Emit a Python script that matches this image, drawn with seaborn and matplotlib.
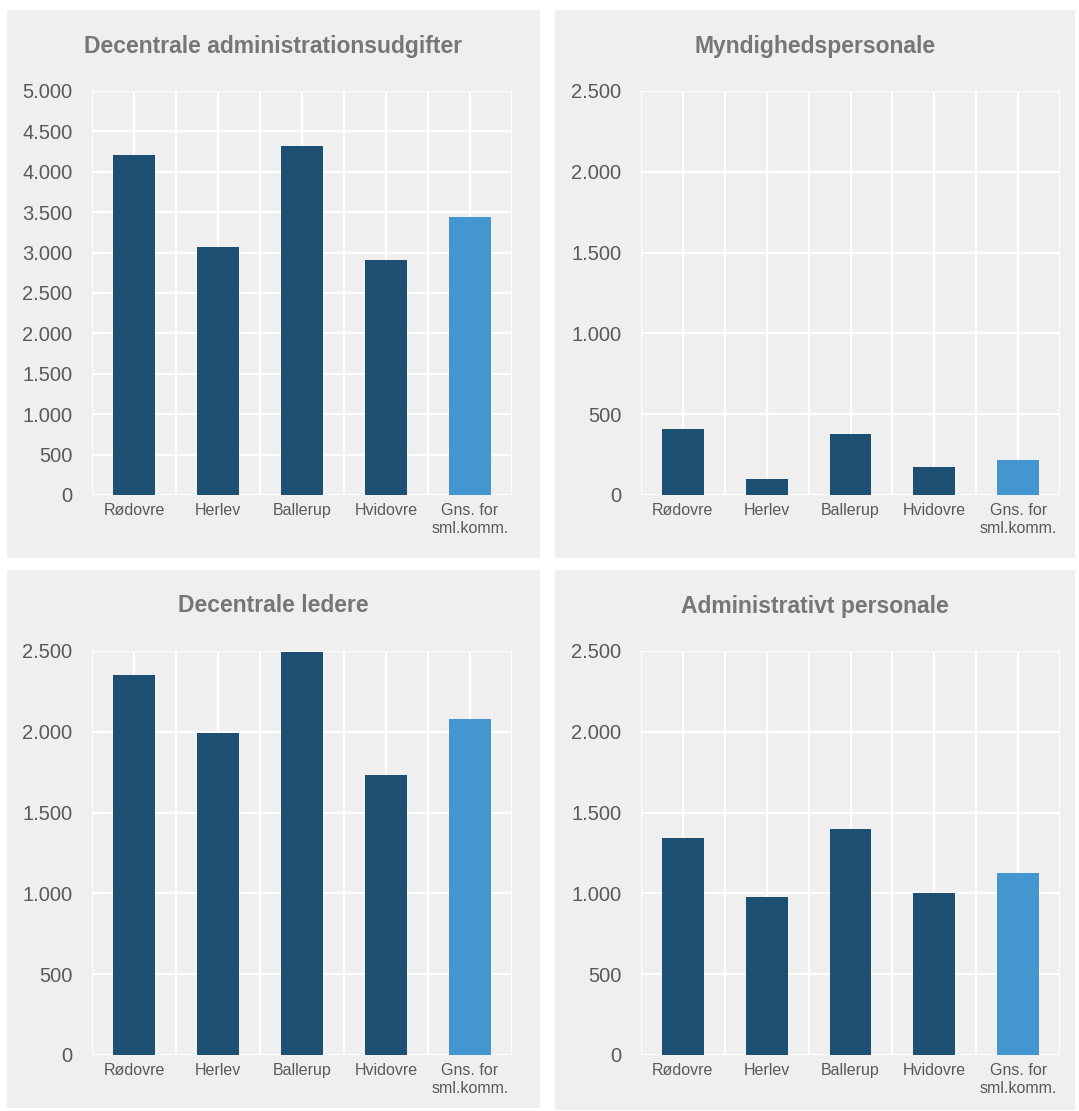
import numpy as np
import pandas as pd
import seaborn as sns
import matplotlib.pyplot as plt
from matplotlib.patches import Rectangle
from matplotlib.ticker import FuncFormatter, MultipleLocator

# Data
kommuner = ['Rødovre', 'Herlev', 'Ballerup', 'Hvidovre', 'Gns. for\nsml.komm.']
titler = ['Decentrale administrationsudgifter', 'Myndighedspersonale',
          'Decentrale ledere', 'Administrativt personale']
udgifter = [4210, 3070, 4320, 2910, 3440]
myndighed = [408, 99, 377, 173, 217]
ledere = [2350, 1993, 2494, 1733, 2079]
administrativt = [1343, 978, 1398, 1002, 1126]
y_max = [5000, 2500, 2500, 2500]

farver = ['#1D4F73', '#1D4F73', '#1D4F73', '#1D4F73', '#4396CE']
baggrund = '#EFEFEF'
tekst = '#595959'

sns.set_theme(style='white')
plt.rcParams['font.family'] = ['Liberation Sans', 'DejaVu Sans']

W, H = 1079, 1111
fig = plt.figure(figsize=(W / 100, H / 100), dpi=100, facecolor='white')

# panel-baggrunde (pixels: x0, y0, x1, y1)
paneler = [(7, 10, 540, 558), (555, 10, 1075, 558),
           (7, 570, 540, 1108), (555, 570, 1075, 1110)]
# plotområder
omraader = [(92, 91, 512, 495), (641, 91, 1060, 495),
            (92, 651, 512, 1055), (641, 651, 1060, 1055)]

dk_fmt = FuncFormatter(lambda v, p: f'{int(v):,}'.replace(',', '.'))

for i, data in enumerate([udgifter, myndighed, ledere, administrativt]):
    px0, py0, px1, py1 = paneler[i]
    fig.patches.append(Rectangle((px0 / W, 1 - py1 / H), (px1 - px0) / W, (py1 - py0) / H,
                                 transform=fig.transFigure, facecolor=baggrund,
                                 edgecolor='none', zorder=-5))
    x0, y0, x1, y1 = omraader[i]
    ax = fig.add_axes([x0 / W, 1 - y1 / H, (x1 - x0) / W, (y1 - y0) / H])
    ax.set_facecolor(baggrund)

    df = pd.DataFrame({'kommune': kommuner, 'vaerdi': data})
    sns.barplot(data=df, x='kommune', y='vaerdi', hue='kommune', palette=farver,
                width=0.5, legend=False, saturation=1, linewidth=0, ax=ax, zorder=3)

    ax.set_xlim(-0.5, 4.5)
    ax.set_ylim(0, y_max[i])
    ax.yaxis.set_major_locator(MultipleLocator(500))
    ax.yaxis.set_major_formatter(dk_fmt)
    ax.set_xticks(np.arange(-0.5, 5, 1.0), minor=True)
    ax.grid(True, which='major', axis='both', color='white', lw=1.6, zorder=1)
    ax.grid(True, which='minor', axis='x', color='white', lw=1.6, zorder=1)
    ax.set_axisbelow(True)
    for s in ax.spines.values():
        s.set_visible(False)

    ax.tick_params(axis='y', length=0, pad=14, labelsize=14.5, labelcolor=tekst)
    ax.tick_params(axis='x', which='both', length=0, pad=6, labelsize=11.5, labelcolor=tekst)
    ax.set_xlabel('')
    ax.set_ylabel('')

    # titel centreret over panelet
    fig.text(((px0 + px1) / 2) / W, 1 - (py0 + 36) / H, titler[i], ha='center', va='center',
             fontsize=16.5, fontweight='bold', color='#767676')

fig.savefig('out.png', dpi=100, facecolor='white')
